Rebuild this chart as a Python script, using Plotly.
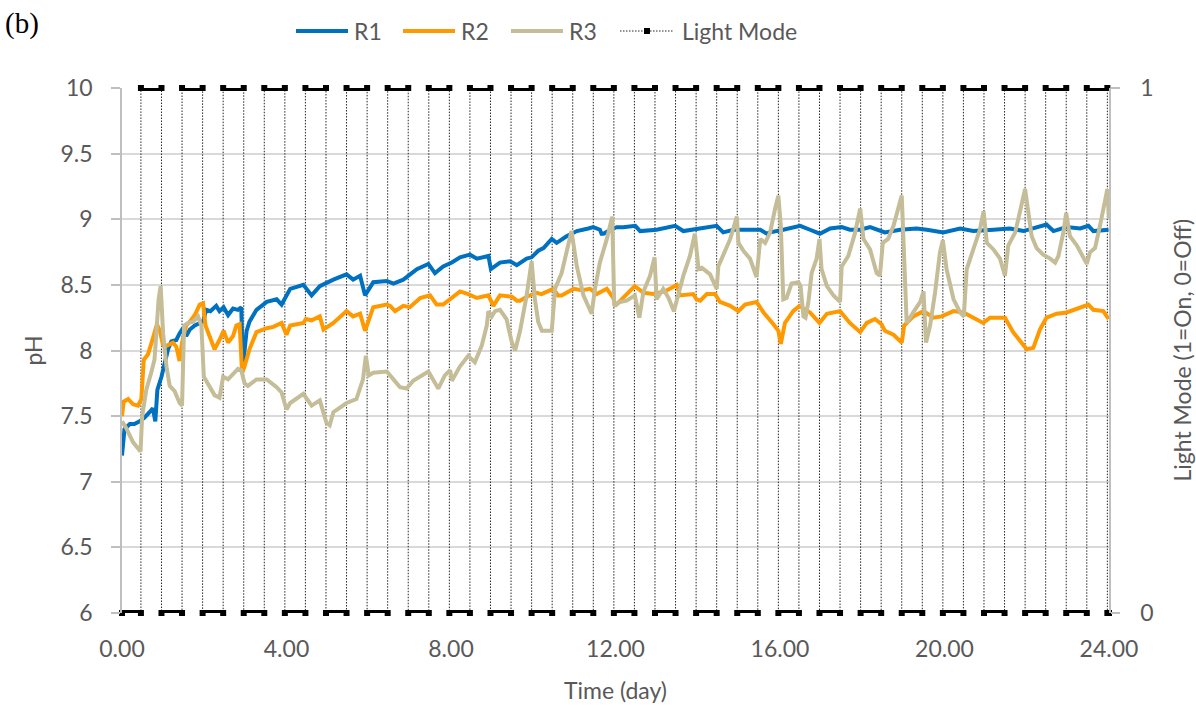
import plotly.graph_objects as go

# ---- pH time series (day, pH) ----
r1_t = [0.00, 0.06, 0.19, 0.30, 0.43, 0.55, 0.67, 0.75, 0.81, 0.86, 0.96, 1.04, 1.12, 1.20, 1.32, 1.40,
        1.48, 1.56, 1.65, 1.77, 1.89, 1.97, 2.05, 2.15, 2.29, 2.37, 2.47, 2.58, 2.70, 2.82, 2.90, 2.94,
        3.03, 3.10, 3.27, 3.52, 3.76, 3.88, 4.09, 4.41, 4.61, 4.81, 5.14, 5.46, 5.62, 5.79, 5.91, 6.11,
        6.44, 6.60, 6.84, 7.00, 7.17, 7.45, 7.61, 7.81, 8.02, 8.22, 8.46, 8.63, 8.91, 8.97, 9.19, 9.44,
        9.60, 9.84, 9.96, 10.12, 10.25, 10.45, 10.57, 10.81, 11.06, 11.34, 11.46, 11.62, 11.66, 11.71,
        11.87, 12.03, 12.19, 12.48, 12.60, 13.00, 13.45, 13.65, 14.06, 14.46, 14.62, 14.87, 15.19, 15.52,
        15.68, 15.76, 16.08, 16.49, 16.73, 16.97, 17.22, 17.50, 17.70, 17.95, 18.19, 18.55, 18.92, 19.32,
        19.57, 19.97, 20.38, 20.70, 21.19, 21.59, 21.92, 22.48, 22.65, 22.97, 23.30, 23.50, 23.62, 23.99]
r1_ph = [7.20, 7.40, 7.44, 7.44, 7.46, 7.49, 7.53, 7.56, 7.46, 7.70, 7.80, 7.91, 8.01, 8.07, 8.08, 8.13,
         8.17, 8.11, 8.16, 8.19, 8.21, 8.22, 8.31, 8.30, 8.34, 8.30, 8.33, 8.27, 8.32, 8.31, 8.33, 7.88,
         8.15, 8.22, 8.31, 8.37, 8.39, 8.35, 8.47, 8.50, 8.42, 8.49, 8.54, 8.58, 8.54, 8.57, 8.42, 8.52,
         8.53, 8.51, 8.54, 8.58, 8.62, 8.66, 8.59, 8.64, 8.67, 8.71, 8.73, 8.70, 8.72, 8.62, 8.67, 8.68,
         8.65, 8.70, 8.71, 8.76, 8.78, 8.85, 8.82, 8.87, 8.91, 8.93, 8.94, 8.92, 8.89, 8.89,
         8.92, 8.94, 8.94, 8.95, 8.91, 8.92, 8.95, 8.91, 8.93, 8.95, 8.90, 8.92, 8.92, 8.92,
         8.89, 8.90, 8.92, 8.95, 8.92, 8.89, 8.93, 8.94, 8.92, 8.92, 8.94, 8.90, 8.92, 8.93,
         8.92, 8.90, 8.93, 8.91, 8.92, 8.93, 8.91, 8.96, 8.91, 8.94, 8.93, 8.95, 8.91, 8.92]

r2_t = [0.00, 0.04, 0.15, 0.27, 0.39, 0.47, 0.53, 0.63, 0.71, 0.78, 0.85, 0.92, 1.00, 1.04, 1.12, 1.24,
        1.32, 1.40, 1.46, 1.56, 1.65, 1.77, 1.89, 1.97, 2.03, 2.13, 2.25, 2.37, 2.47, 2.58, 2.70, 2.78,
        2.86, 2.92, 2.98, 3.10, 3.18, 3.27, 3.52, 3.68, 3.88, 4.00, 4.09, 4.41, 4.47, 4.61, 4.81, 4.90,
        5.14, 5.46, 5.62, 5.79, 5.91, 6.00, 6.11, 6.44, 6.52, 6.64, 6.84, 7.00, 7.25, 7.49, 7.65, 7.81,
        7.98, 8.22, 8.42, 8.63, 8.91, 9.03, 9.19, 9.48, 9.60, 9.68, 9.84, 10.08, 10.20, 10.49, 10.60,
        10.69, 10.98, 11.18, 11.38, 11.54, 11.79, 11.95, 11.99, 12.11, 12.47, 12.68, 12.92, 13.20, 13.49,
        13.57, 13.89, 13.97, 14.06, 14.22, 14.42, 14.54, 14.79, 14.99, 15.15, 15.43, 15.60, 15.84, 15.96,
        16.02, 16.12, 16.32, 16.47, 16.73, 16.96, 17.14, 17.46, 17.70, 17.95, 18.11, 18.31, 18.47, 18.55,
        18.76, 18.96, 19.02, 19.24, 19.49, 19.73, 19.93, 20.22, 20.46, 20.70, 20.94, 21.11, 21.47, 21.67,
        21.92, 22.00, 22.16, 22.32, 22.48, 22.73, 22.97, 23.13, 23.38, 23.50, 23.62, 23.86, 23.99]
r2_ph = [7.50, 7.61, 7.63, 7.59, 7.58, 7.63, 7.93, 7.97, 8.05, 8.13, 8.20, 8.15, 8.04, 8.03, 8.04, 8.06,
         8.03, 7.92, 8.06, 8.19, 8.22, 8.27, 8.35, 8.36, 8.19, 8.11, 8.01, 8.08, 8.15, 8.06, 8.11, 8.19,
         8.20, 7.83, 7.88, 8.01, 8.08, 8.14, 8.17, 8.18, 8.21, 8.12, 8.19, 8.21, 8.24, 8.23, 8.26, 8.16,
         8.21, 8.30, 8.26, 8.28, 8.15, 8.24, 8.33, 8.35, 8.34, 8.30, 8.34, 8.33, 8.40, 8.42, 8.35, 8.35,
         8.39, 8.45, 8.43, 8.40, 8.42, 8.34, 8.42, 8.41, 8.38, 8.38, 8.41, 8.44, 8.43, 8.47, 8.42,
         8.42, 8.47, 8.46, 8.47, 8.43, 8.47, 8.40, 8.34, 8.38, 8.49, 8.44, 8.43, 8.45, 8.50,
         8.42, 8.43, 8.39, 8.38, 8.43, 8.43, 8.37, 8.34, 8.30, 8.35, 8.37, 8.29, 8.20, 8.15,
         8.05, 8.21, 8.30, 8.34, 8.29, 8.21, 8.28, 8.30, 8.21, 8.14, 8.21, 8.24, 8.20, 8.15,
         8.12, 8.06, 8.19, 8.26, 8.30, 8.25, 8.26, 8.30, 8.29, 8.25, 8.21, 8.25, 8.25, 8.14,
         8.05, 8.01, 8.02, 8.16, 8.25, 8.28, 8.29, 8.31, 8.34, 8.35, 8.31, 8.30, 8.24]

r3_t = [0.00, 0.10, 0.27, 0.39, 0.45, 0.49, 0.59, 0.71, 0.79, 0.83, 0.89, 0.94, 1.00, 1.08, 1.16, 1.28,
        1.40, 1.46, 1.51, 1.61, 1.73, 1.85, 1.93, 1.99, 2.13, 2.25, 2.37, 2.46, 2.58, 2.70, 2.82, 2.90,
        2.98, 3.06, 3.27, 3.52, 3.76, 3.88, 4.00, 4.09, 4.41, 4.61, 4.81, 4.97, 5.05, 5.14, 5.46, 5.70,
        5.86, 5.93, 6.00, 6.11, 6.44, 6.60, 6.76, 6.92, 7.08, 7.45, 7.69, 7.85, 7.98, 8.02, 8.22, 8.42,
        8.58, 8.75, 8.87, 8.91, 8.99, 9.07, 9.19, 9.35, 9.48, 9.56, 9.68, 9.84, 9.96, 10.04, 10.12, 10.21,
        10.45, 10.53, 10.69, 10.81, 10.93, 11.06, 11.22, 11.42, 11.50, 11.62, 11.79, 11.92, 11.97, 12.11,
        12.27, 12.47, 12.58, 12.68, 12.84, 12.95, 13.00, 13.16, 13.29, 13.42, 13.53, 13.65, 13.81, 13.93,
        14.02, 14.10, 14.30, 14.46, 14.50, 14.62, 14.79, 14.95, 14.99, 15.11, 15.27, 15.43, 15.52, 15.64,
        15.76, 15.88, 15.96, 16.02, 16.08, 16.16, 16.28, 16.45, 16.50, 16.57, 16.62, 16.69, 16.77, 16.89,
        16.96, 17.01, 17.14, 17.30, 17.46, 17.50, 17.66, 17.82, 17.95, 18.03, 18.19, 18.35, 18.43, 18.50,
        18.63, 18.76, 18.88, 18.96, 19.02, 19.08, 19.24, 19.41, 19.49, 19.55, 19.65, 19.77, 19.89, 19.96,
        20.05, 20.22, 20.38, 20.47, 20.54, 20.70, 20.86, 20.95, 21.03, 21.19, 21.35, 21.47, 21.55, 21.72,
        21.84, 21.96, 22.04, 22.12, 22.24, 22.40, 22.57, 22.69, 22.77, 22.89, 22.96, 23.05, 23.22, 23.38,
        23.46, 23.54, 23.66, 23.78, 23.90, 23.96, 24.00]
r3_ph = [7.46, 7.41, 7.30, 7.25, 7.23, 7.50, 7.70, 7.83, 7.93, 8.11, 8.39, 8.49, 8.13, 7.88, 7.73, 7.69,
         7.60, 7.58, 8.19, 8.21, 8.22, 8.26, 8.19, 7.80, 7.73, 7.66, 7.64, 7.80, 7.78, 7.82, 7.86, 7.85,
         7.75, 7.73, 7.78, 7.78, 7.72, 7.68, 7.55, 7.60, 7.67, 7.58, 7.62, 7.45, 7.43, 7.53, 7.60, 7.63,
         7.78, 7.96, 7.81, 7.83, 7.84, 7.78, 7.72, 7.71, 7.77, 7.84, 7.71, 7.81, 7.85, 7.77, 7.88, 7.96,
         7.91, 8.04, 8.19, 8.30, 8.26, 8.30, 8.31, 8.24, 8.06, 8.00, 8.15, 8.42, 8.68, 8.39, 8.22, 8.15,
         8.15, 8.47, 8.59, 8.75, 8.91, 8.64, 8.42, 8.28, 8.47, 8.67, 8.85, 9.02, 8.34, 8.37,
         8.38, 8.42, 8.25, 8.45, 8.57, 8.71, 8.39, 8.47, 8.40, 8.30, 8.44, 8.57, 8.72, 8.89,
         8.62, 8.63, 8.58, 8.47, 8.64, 8.72, 8.85, 9.02, 8.82, 8.76, 8.70, 8.56, 8.85, 8.82,
         8.90, 9.08, 9.18, 8.95, 8.39, 8.40, 8.51, 8.52, 8.49, 8.26, 8.25, 8.37, 8.59, 8.70,
         8.85, 8.62, 8.49, 8.42, 8.37, 8.64, 8.72, 8.89, 9.08, 8.85, 8.77, 8.59, 8.57, 8.82,
         8.85, 8.95, 9.08, 9.18, 8.70, 8.21, 8.29, 8.37, 8.45, 8.06, 8.19, 8.44, 8.75, 8.84,
         8.62, 8.39, 8.29, 8.26, 8.62, 8.77, 8.92, 9.06, 8.82, 8.77, 8.70, 8.57, 8.80, 8.90,
         9.08, 9.23, 9.05, 8.87, 8.78, 8.73, 8.70, 8.67, 8.72, 8.90, 9.05, 8.87, 8.80, 8.70,
         8.66, 8.75, 8.78, 8.95, 9.15, 9.23, 9.00]

# ---- light schedule: switch-on / switch-off times (day) ----
light_on = [0.46, 1.46, 2.46, 3.46, 4.46, 5.46, 6.46, 7.46, 8.46, 9.46, 10.46, 11.46,
            12.46, 13.46, 14.46, 15.46, 16.46, 17.46, 18.46, 19.46, 20.46, 21.46, 22.46, 23.46]
light_off = [0.96, 1.96, 2.96, 3.96, 4.96, 5.96, 6.96, 7.96, 8.96, 9.96, 10.96, 11.96,
             12.96, 13.96, 14.96, 15.96, 16.96, 17.96, 18.96, 19.96, 20.96, 21.96, 22.96, 23.96]
t_start, t_end = 0.0, 24.0

x_ticks = [0, 4, 8, 12, 16, 20, 24]
ph_ticks = [6, 6.5, 7, 7.5, 8, 8.5, 9, 9.5, 10]

# step curve of the light mode
step_x, step_y = [t_start], [0]
for on, off in zip(light_on, light_off):
    step_x += [on, on, off, off]
    step_y += [0, 1, 1, 0]
step_x.append(t_end)
step_y.append(0)

# horizontal plateaus of the step curve (drawn as thick bars)
bar_x, bar_y = [], []
for i in range(len(step_x) - 1):
    if step_y[i] == step_y[i + 1] and step_x[i] != step_x[i + 1]:
        bar_x += [step_x[i], step_x[i + 1], None]
        bar_y += [step_y[i], step_y[i + 1], None]

TXT = "#595959"
GRID = "#D9D9D9"
FONT = "Lato, 'Open Sans', sans-serif"
FS = 23
DOT = "1.5px,1.5px"

# plot-area geometry in pixels, used to place the hand-drawn legend
L, R, T, B = 122, 1109, 88, 613
def px_x(px):
    return (px - L) / (R - L)
def px_y(py):
    return (B - py) / (B - T)

fig = go.Figure()

fig.add_trace(go.Scatter(
    x=step_x, y=step_y, yaxis="y", name="Light Mode", showlegend=False,
    mode="lines+markers", cliponaxis=False,
    line=dict(color="#262626", width=1, dash=DOT),
    marker=dict(symbol="square", size=6, color="black"),
    hoverinfo="skip",
))
fig.add_trace(go.Scatter(
    x=bar_x, y=bar_y, yaxis="y", showlegend=False, mode="lines", cliponaxis=False,
    line=dict(color="black", width=6), hoverinfo="skip",
))

series = [("R1", r1_t, r1_ph, "#0070C0"),
          ("R2", r2_t, r2_ph, "#FF9900"),
          ("R3", r3_t, r3_ph, "#C4BD97")]
for name, t, ph, col in series:
    fig.add_trace(go.Scatter(
        x=t, y=ph, yaxis="y2", name=name, showlegend=False, mode="lines",
        line=dict(color=col, width=4),
    ))

# legend row: line sample + label for each series
legend_y = px_y(31)
legend_items = [("R1", "#0070C0", 296), ("R2", "#FF9900", 403), ("R3", "#C4BD97", 511)]
shapes, annotations = [], []
for name, col, x0 in legend_items:
    shapes.append(dict(type="line", xref="paper", yref="paper",
                       x0=px_x(x0), x1=px_x(x0 + 52), y0=legend_y, y1=legend_y,
                       line=dict(color=col, width=4)))
    annotations.append(dict(text=name, xref="paper", yref="paper", x=px_x(x0 + 56), y=legend_y,
                            xanchor="left", yanchor="middle", showarrow=False,
                            font=dict(size=FS, color=TXT)))
shapes.append(dict(type="line", xref="paper", yref="paper",
                   x0=px_x(620), x1=px_x(673), y0=legend_y, y1=legend_y,
                   line=dict(color="#262626", width=1, dash=DOT)))
shapes.append(dict(type="rect", xref="paper", yref="paper",
                   x0=px_x(644), x1=px_x(650), y0=px_y(34), y1=px_y(28),
                   line=dict(width=0), fillcolor="black"))
annotations.append(dict(text="Light Mode", xref="paper", yref="paper", x=px_x(680), y=legend_y,
                        xanchor="left", yanchor="middle", showarrow=False,
                        font=dict(size=FS, color=TXT)))

annotations += [
    dict(text="(b)", xref="paper", yref="paper", x=px_x(3), y=px_y(24),
         xanchor="left", yanchor="middle", showarrow=False,
         font=dict(family="'Liberation Serif', 'DejaVu Serif', serif", size=29, color="black")),
    dict(text="pH", xref="paper", yref="paper", x=px_x(32), y=0.5,
         xanchor="center", yanchor="middle", textangle=-90, showarrow=False,
         font=dict(size=FS, color=TXT)),
    dict(text="Light Mode (1=On, 0=Off)", xref="paper", yref="paper",
         x=px_x(1181), y=0.5, xanchor="center", yanchor="middle",
         textangle=-90, showarrow=False, font=dict(size=FS, color=TXT)),
    dict(text="Time (day)", xref="paper", yref="paper", x=px_x(615),
         y=px_y(690), xanchor="center", yanchor="middle", showarrow=False,
         font=dict(size=FS, color=TXT)),
]

fig.update_layout(
    width=1196, height=713,
    margin=dict(l=L, r=1196 - R, t=T, b=713 - B),
    paper_bgcolor="white", plot_bgcolor="white",
    font=dict(family=FONT, size=FS, color=TXT),
    showlegend=False,
    xaxis=dict(range=[t_start, t_end], tickvals=x_ticks,
               ticktext=[f"{v:.2f}" for v in x_ticks],
               showgrid=False, zeroline=False, showline=False, ticks="",
               ticklabelstandoff=20, tickfont=dict(size=FS, color=TXT)),
    yaxis=dict(range=[0, 1], side="right", tickvals=[0, 1], showgrid=False, zeroline=False,
               showline=True, linecolor="#BFBFBF", linewidth=1.5,
               ticks="outside", ticklen=9, tickcolor="#BFBFBF", tickwidth=1.5,
               ticklabelstandoff=16, tickfont=dict(size=FS, color=TXT)),
    yaxis2=dict(range=[6, 10], side="left", overlaying="y", tickvals=ph_ticks,
                ticktext=[f"{v:g}" for v in ph_ticks],
                showgrid=True, gridcolor=GRID, gridwidth=1.5, zeroline=False,
                showline=True, linecolor="#BFBFBF", linewidth=1.5,
                ticks="outside", ticklen=9, tickcolor="#BFBFBF", tickwidth=1.5,
                ticklabelstandoff=14, tickfont=dict(size=FS, color=TXT)),
    shapes=shapes,
    annotations=annotations,
)

fig.write_html("out.html")
